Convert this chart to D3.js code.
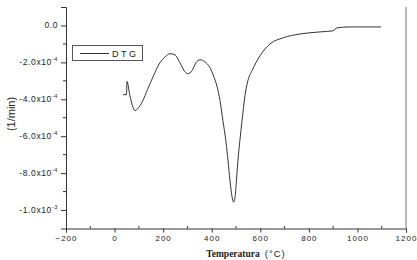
<!DOCTYPE html>
<html>
<head>
<meta charset="utf-8">
<script src="https://cdn.jsdelivr.net/npm/d3@7"></script>
<style>
  body { margin: 0; background: #fff; }
  svg { display: block; }
  text { font-family: "Liberation Sans", Arial, sans-serif; fill: #222; }
</style>
</head>
<body>
<div id="chart"></div>
<script>
// temperature (°C) and DTG (1/min)
const temps = [35, 49, 51, 63, 84, 105, 146, 187, 208, 228, 249, 269, 290, 302, 319, 335, 352, 372, 393, 409, 422, 434, 446, 459, 467, 475, 484, 490, 496, 502, 508, 516, 525, 537, 549, 566, 599, 640, 694, 764, 846, 899, 916, 969, 1010, 1097]
const dtg = [-3.75e-4, -3.75e-4, -3.04e-4, -3.80e-4, -4.61e-4, -4.34e-4, -3.15e-4, -2.02e-4, -1.70e-4, -1.53e-4, -1.59e-4, -2.02e-4, -2.51e-4, -2.61e-4, -2.45e-4, -2.02e-4, -1.86e-4, -1.97e-4, -2.29e-4, -2.78e-4, -3.31e-4, -4.07e-4, -5.15e-4, -6.33e-4, -7.31e-4, -8.38e-4, -9.30e-4, -9.57e-4, -9.30e-4, -8.38e-4, -7.31e-4, -6.23e-4, -5.15e-4, -3.80e-4, -2.99e-4, -2.45e-4, -1.64e-4, -1.00e-4, -0.67e-4, -0.46e-4, -0.35e-4, -0.29e-4, -0.13e-4, -0.08e-4, -0.08e-4, -0.08e-4]

const xTicks = [-200, 0, 200, 400, 600, 800, 1000, 1200]
const xMinor = [-100, 100, 300, 500, 700, 900, 1100]
const yTicks = [0, -2e-4, -4e-4, -6e-4, -8e-4, -1e-3]
const yMinor = [-1e-4, -3e-4, -5e-4, -7e-4, -9e-4]
const yMant = ["0.0", "-2.0x10", "-4.0x10", "-6.0x10", "-8.0x10", "-1.0x10"]
const yExp = ["", "-4", "-4", "-4", "-4", "-3"]

const w = 417, h = 260
const mLeft = 66, mRight = 406, mTop = 7, mBottom = 228.5

const x = d3.scaleLinear().domain([-200, 1200]).range([mLeft, mRight])
const y = d3.scaleLinear().domain([-1.1e-3, 1e-4]).range([mBottom, mTop])

const svg = d3.select('#chart').append('svg')
  .attr('width', w).attr('height', h)

const axisColor = '#333'

// right frame line
svg.append('line')
  .attr('x1', mRight).attr('x2', mRight).attr('y1', mTop).attr('y2', mBottom)
  .attr('stroke', '#777').attr('stroke-width', 1)

// x axis
const xAxis = svg.append('g')
  .attr('transform', 'translate(0,' + mBottom + ')')
  .call(d3.axisBottom(x).tickValues(xTicks).tickSize(4).tickPadding(3).tickFormat(d3.format('d')))
xAxis.select('.domain').attr('stroke', axisColor)
xAxis.selectAll('.tick line').attr('stroke', axisColor)
xAxis.selectAll('text').attr('font-size', 8).attr('fill', '#333')
  .attr('letter-spacing', 1)

svg.append('g')
  .attr('transform', 'translate(0,' + mBottom + ')')
  .selectAll('line').data(xMinor).enter().append('line')
  .attr('x1', d => x(d)).attr('x2', d => x(d))
  .attr('y1', 0).attr('y2', -2.5)
  .attr('stroke', axisColor)

// y axis
const yAxis = svg.append('g')
  .attr('transform', 'translate(' + mLeft + ',0)')
  .call(d3.axisLeft(y).tickValues(yTicks).tickSize(5).tickFormat(''))
yAxis.select('.domain').attr('stroke', axisColor)
yAxis.selectAll('.tick line').attr('stroke', axisColor)

svg.append('g')
  .attr('transform', 'translate(' + mLeft + ',0)')
  .selectAll('line').data(yMinor).enter().append('line')
  .attr('x1', 0).attr('x2', -3)
  .attr('y1', d => y(d)).attr('y2', d => y(d))
  .attr('stroke', axisColor)

const yLab = svg.append('g').selectAll('text').data(yTicks).enter().append('text')
  .attr('x', 58)
  .attr('y', d => y(d) + 3)
  .attr('text-anchor', 'end')
  .attr('font-size', 8.5)
  .attr('letter-spacing', 0.6)
  .attr('fill', '#333')
yLab.append('tspan').text((d, i) => yMant[i])
yLab.append('tspan')
  .attr('dy', -4)
  .attr('font-size', 5.5)
  .text((d, i) => yExp[i])

// axis titles
svg.append('text')
  .attr('transform', 'translate(15,114) rotate(-90)')
  .attr('text-anchor', 'middle')
  .attr('font-size', 11)
  .text('(1/min)')

const xt = svg.append('text')
  .attr('x', 246).attr('y', 257)
  .attr('text-anchor', 'middle')
  .attr('font-size', 9.5)
xt.append('tspan').attr('font-family', '"Liberation Serif", serif').attr('font-weight', 'bold').text('Temperatura')
xt.append('tspan').attr('dx', 5).attr('letter-spacing', 1).text('(°C)')

// curve
const pts = temps.map((t, i) => [t, dtg[i]])
svg.append('path')
  .datum(pts)
  .attr('fill', 'none')
  .attr('stroke', '#333')
  .attr('stroke-width', 1)
  .attr('d', d3.line().x(d => x(d[0])).y(d => y(d[1])).curve(d3.curveMonotoneX))

// legend
const lg = svg.append('g')
lg.append('rect')
  .attr('x', 72.5).attr('y', 45.5).attr('width', 70).attr('height', 15)
  .attr('fill', '#fff').attr('stroke', '#555')
lg.append('line')
  .attr('x1', 80).attr('x2', 109).attr('y1', 53.5).attr('y2', 53.5)
  .attr('stroke', '#333')
lg.append('text')
  .attr('x', 112).attr('y', 57)
  .attr('font-size', 9)
  .attr('letter-spacing', 2.5)
  .text('DTG')
</script>
</body>
</html>
